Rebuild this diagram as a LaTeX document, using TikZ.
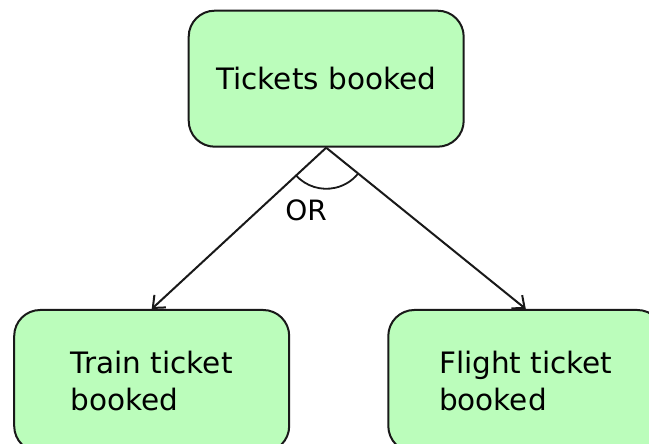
\documentclass[tikz,border=0pt]{standalone}
\usepackage{fontspec}
\setmainfont{DejaVu Sans}
\usetikzlibrary{arrows.meta,calc}
\definecolor{statefill}{RGB}{187,253,187}
\definecolor{edgeline}{RGB}{25,25,25}
\begin{document}
\begin{tikzpicture}[x=1pt,y=1pt,
  statebox/.style={draw=edgeline, line width=2pt, fill=statefill,
    rounded corners=26pt, minimum width=275pt, minimum height=136pt,
    align=left, inner sep=0pt,
    font=\fontsize{29.5}{36.5}\selectfont},
  link/.style={draw=edgeline, line width=2pt,
    -{Straight Barb[length=10pt,width=17pt]}},
  orlabel/.style={font=\fontsize{28}{30}\selectfont, inner sep=0pt}]
  \useasboundingbox (0,0) rectangle (649,444);

  % states
  \node[statebox] (tickets) at (326.2,365.3) {Tickets booked};
  \node[statebox, minimum height=142pt] (train)  at (151.7,63) {Train ticket\\booked};
  \node[statebox, minimum height=142pt] (flight) at (525.8,63) {Flight ticket\\booked};

  % alternative transitions
  \coordinate (fork) at (tickets.south);
  \draw[link] (fork) -- (train.north);
  \draw[link] (fork) -- (flight.north);

  % OR arc between the two branches
  \draw[edgeline, line width=1.8pt]
    ($(fork)!41pt!(train.north)$) arc[start angle=222.6, end angle=320.7, radius=41pt];
  \node[orlabel] (or) at (306,233.5) {OR};
\end{tikzpicture}
\end{document}
